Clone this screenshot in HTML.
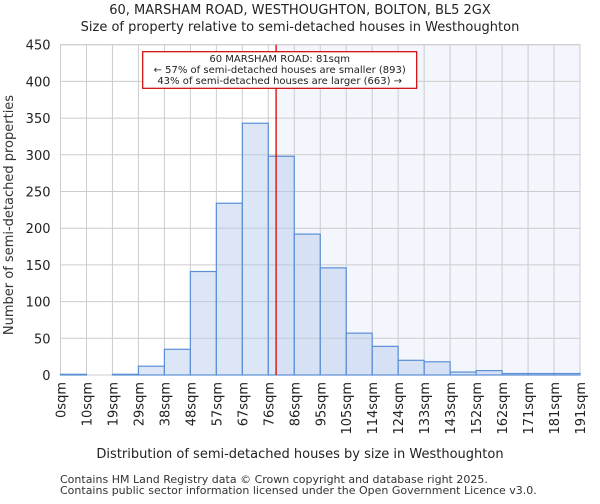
<!DOCTYPE html>
<html><head><meta charset="utf-8"><style>
body{margin:0;background:#fff;font-family:"DejaVu Sans","Liberation Sans",sans-serif;}
svg text{font-family:"DejaVu Sans","Liberation Sans",sans-serif;}
</style></head><body>
<svg id="chart" width="600" height="500" xmlns="http://www.w3.org/2000/svg">
<text x="300" y="14" text-anchor="middle" font-size="13" fill="#222">60, MARSHAM ROAD, WESTHOUGHTON, BOLTON, BL5 2GX</text>
<text x="300" y="31" text-anchor="middle" font-size="13" fill="#222">Size of property relative to semi-detached houses in Westhoughton</text>
<g id="plot"></g>
<text x="300" y="458" text-anchor="middle" font-size="13" fill="#222">Distribution of semi-detached houses by size in Westhoughton</text>
<text transform="translate(13,215) rotate(-90)" text-anchor="middle" font-size="13" fill="#333">Number of semi-detached properties</text>
<text x="60" y="483" font-size="11" fill="#333">Contains HM Land Registry data © Crown copyright and database right 2025.</text>
<text x="60" y="494" font-size="11" fill="#333">Contains public sector information licensed under the Open Government Licence v3.0.</text>
</svg>
<script>
const tickLabels=["0sqm","10sqm","19sqm","29sqm","38sqm","48sqm","57sqm","67sqm","76sqm","86sqm","95sqm","105sqm","114sqm","124sqm","133sqm","143sqm","152sqm","162sqm","171sqm","181sqm","191sqm"];
const counts=[1,0,1,12,35,141,234,343,298,192,146,57,39,20,18,4,6,2,2,2];
const yTicks=[0,50,100,150,200,250,300,350,400,450];
const markerBin=8.3;
const NS="http://www.w3.org/2000/svg";
const L=60.5,R=580,T=44.7,B=375,yMax=450;
const n=counts.length,bw=(R-L)/n;
const xs=i=>L+i*bw;
const ys=v=>B-v/yMax*(B-T);
const g=document.getElementById('plot');
function mk(tag,attrs){const e=document.createElementNS(NS,tag);for(const k in attrs)e.setAttribute(k,attrs[k]);g.appendChild(e);return e;}
const mx=xs(markerBin);
let sh=mk('rect',{x:mx,y:T,width:R-mx,height:B-T,fill:'#f3f6fd'});


yTicks.forEach(t=>{
  let l=mk('line',{x1:L,x2:R,y1:ys(t),y2:ys(t),stroke:'#ccc','stroke-width':1});
  
  
  let tx=mk('text',{x:L-10,y:ys(t)+5,'text-anchor':'end','font-size':13,fill:'#222'});
  tx.textContent=t;
  
  
});
tickLabels.forEach((s,i)=>{
  let l=mk('line',{x1:xs(i),x2:xs(i),y1:T,y2:B,stroke:'#ccc','stroke-width':1});
  
  
  let tx=mk('text',{transform:`translate(${xs(i)+5},382) rotate(-90)`,'text-anchor':'end','font-size':13,fill:'#222'});
  tx.textContent=s;
  
  
});
let fr=mk('rect',{x:L,y:T,width:R-L,height:B-T,fill:'none',stroke:'#ccc'});


counts.forEach((v,i)=>{
  let b=mk('rect',{x:xs(i),y:ys(v),width:bw,height:B-ys(v),fill:'rgba(180,200,235,0.45)',stroke:'#5b8fd6','stroke-width':1.2});
  
  
});
let ml=mk('line',{x1:mx,x2:mx,y1:T,y2:B,stroke:'#d00','stroke-width':1.3});


let ab=mk('rect',{x:142.7,y:51.7,width:274,height:36.6,fill:'#fff',stroke:'#c00','stroke-width':1.2});


["60 MARSHAM ROAD: 81sqm","← 57% of semi-detached houses are smaller (893)","43% of semi-detached houses are larger (663) →"].forEach((s,i)=>{
  let tx=mk('text',{x:279.7,y:62+i*11,'text-anchor':'middle','font-size':10,fill:'#222'});
  tx.textContent=s;
  
  
});
</script>
</body></html>
